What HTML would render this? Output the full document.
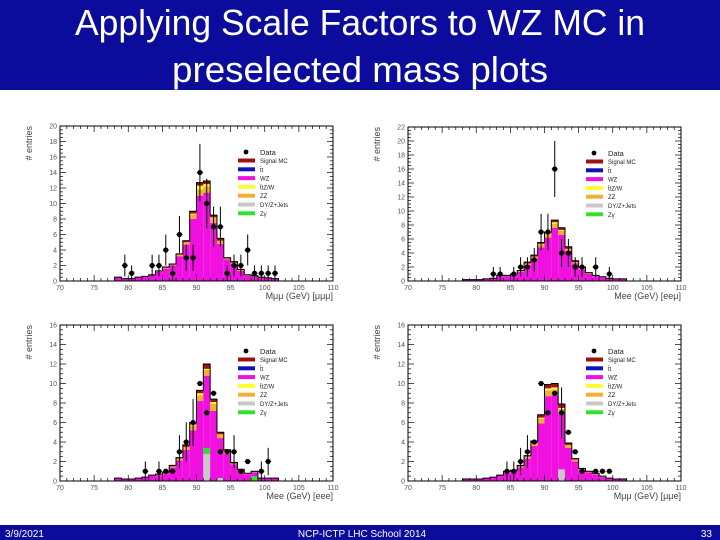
<!DOCTYPE html>
<html><head><meta charset="utf-8"><style>
body{margin:0;background:#fff;}
svg{display:block;font-family:"Liberation Sans",sans-serif;}
</style></head><body>
<svg id="s" width="720" height="540" viewBox="0 0 720 540">
<rect x="0" y="0" width="720" height="90" fill="#0c0c9c"/>
<text x="360" y="35" fill="#fff" font-size="36" text-anchor="middle" textLength="570" lengthAdjust="spacingAndGlyphs">Applying Scale Factors to WZ MC in</text>
<text x="360" y="82" fill="#fff" font-size="36" text-anchor="middle" textLength="376" lengthAdjust="spacingAndGlyphs">preselected mass plots</text>
<rect x="0" y="525" width="720" height="15" fill="#0c0c9c"/>
<text x="5" y="537" fill="#fff" font-size="10">3/9/2021</text>
<text x="362" y="537" fill="#fff" font-size="10" text-anchor="middle">NCP-ICTP LHC School 2014</text>
<text x="712" y="537" fill="#fff" font-size="10" text-anchor="end">33</text>
<g id="plots"></g>
</svg>
<script>
// bins 78..101, width 1 GeV
const binStart = 78;
// ---- panel mumumu
const tlWZ  = [0.5,0.3,0.3,0.5,0.6,0.8,1.2,1.6,2.0,3.2,4.7,8.0,11.0,11.4,7.5,4.8,2.8,2.2,1.3,0.7,0.6,0.4,0.35,0.25];
const tlZZ  = [0,0,0,0,0,0,0.05,0.1,0.1,0.2,0.3,0.6,0.8,0.8,0.6,0.4,0.1,0.15,0.1,0.05,0,0,0,0];
const tlTTZ = [0,0,0,0,0,0,0,0,0,0,0,0.1,0.5,0.3,0.1,0,0,0,0,0,0,0,0,0];
const tlSIG = [0,0,0,0,0,0,0.05,0.1,0.1,0.1,0.2,0.3,0.4,0.4,0.3,0.3,0.1,0.15,0.1,0.05,0.1,0.1,0.05,0.05];
const tlDataX = [79.5,80.5,83.5,84.5,85.5,86.5,87.5,88.5,89.5,90.5,91.5,92.5,93.5,94.5,95.5,96.5,97.5,98.5,99.5,100.5,101.5];
const tlDataY = [2,1,2,2,4,1,6,3,3,14,10,7,7,1,2,2,4,1,1,1,1];
const tlDataE = [1.4,1,1.4,1.4,2,1,2.4,1.7,1.7,3.7,3.2,2.6,2.6,1,1.4,1.4,2,1,1,1,1];
// ---- panel eemu
const trWZ  = [0.2,0.2,0.2,0.3,0.4,0.7,0.7,0.9,1.3,2.3,3.2,4.8,6.2,7.6,6.6,4.3,2.5,1.7,1.0,0.7,0.5,0.35,0.3,0.25];
const trZZ  = [0,0,0,0,0,0.05,0.05,0.05,0.1,0.2,0.3,0.4,0.5,0.6,0.6,0.3,0.2,0.15,0.1,0.05,0.05,0,0,0];
const trTTZ = [0,0,0,0,0,0,0,0,0,0,0,0.1,0.1,0.2,0.1,0,0,0,0,0,0,0,0,0];
const trSIG = [0,0,0,0,0,0.05,0.05,0.05,0.1,0.2,0.2,0.2,0.2,0.3,0.3,0.3,0.2,0.15,0.1,0.05,0.05,0.05,0,0.05];
const trDataX = [82.5,83.5,85.5,86.5,87.5,88.5,89.5,90.5,91.5,92.5,93.5,94.5,95.5,97.5,99.5];
const trDataY = [1,1,1,2,2,3,7,7,16,4,4,2,2,2,1];
const trDataE = [1,1,1,1.4,1.4,1.7,2.6,2.6,4,2,2,1.4,1.4,1.4,1];
// ---- panel eee
const blWZ  = [0.3,0.2,0.2,0.3,0.4,0.6,0.6,0.8,1.4,2.1,3.2,5.2,8.2,10.8,7.2,4.4,2.8,1.7,1.1,0.7,0.9,0.3,0.3,0.3];
const blZZ  = [0,0,0,0,0,0,0.05,0.05,0.1,0.2,0.3,0.5,0.6,0.6,0.7,0.4,0.3,0.1,0.05,0.05,0.05,0,0,0];
const blTTZ = [0,0,0,0,0,0,0,0,0,0,0,0.1,0.2,0.1,0.2,0,0,0,0,0,0,0,0,0];
const blSIG = [0,0,0,0,0,0,0.05,0.05,0.1,0.1,0.2,0.2,0.3,0.5,0.3,0.2,0.1,0.1,0.05,0.05,0.05,0,0,0];
const blDY  = [0,0,0,0,0,0,0,0,0,0,0,0,0,2.8,0,0.3,0,0,0,0,0,0,0,0];
const blZG  = [0,0,0,0,0,0,0,0,0,0,0,0,0,0.6,0,0,0,0,0,0,0.5,0,0,0];
const blDataX = [82.5,84.5,85.5,86.5,87.5,88.5,89.5,90.5,91.5,92.5,93.5,94.5,95.5,96.5,97.5,99.5,100.5];
const blDataY = [1,1,1,1,3,4,6,10,7,9,3,3,3,1,2,1,2];
const blDataE = [1,1,0,0,1.7,2,2.4,0,0,0,0,0,1.7,0,0,1,1.4];
// ---- panel mumue
const brWZ  = [0.2,0.2,0.2,0.3,0.4,0.6,0.9,1.0,1.4,2.3,3.6,5.9,8.7,8.8,6.9,3.4,2.0,1.1,0.9,0.7,0.4,0.25,0.2,0.2];
const brZZ  = [0,0,0,0,0,0,0.05,0.05,0.1,0.2,0.3,0.5,0.6,0.6,0.5,0.3,0.2,0.1,0.05,0.05,0.05,0,0,0];
const brTTZ = [0,0,0,0,0,0,0,0,0,0,0,0.1,0.2,0.2,0.1,0,0,0,0,0,0,0,0,0];
const brSIG = [0,0,0,0,0,0,0.05,0.05,0.1,0.1,0.2,0.3,0.4,0.4,0.4,0.2,0.1,0.1,0.05,0.05,0.05,0.05,0,0];
const brDY  = [0,0,0,0,0,0,0,0,0,0,0,0,0,0,1.2,0,0,0,0,0,0,0,0,0];
const brDataX = [84.5,85.5,86.5,87.5,88.5,89.5,90.5,91.5,92.5,93.5,94.5,95.5,97.5,98.5,99.5];
const brDataY = [1,1,2,3,4,10,7,9,7,5,3,1,1,1,1];
const brDataE = [1,1,1.4,1.7,0,0,0,0,2.6,0,0,0,0,0,0];
const legendLabels = ["Signal MC","t\u0304t","WZ","t\u0304tZ/W","ZZ","DY/Z+Jets","Z\u03b3"];
const legendColors = ["#a01010","#1010c0","#f010e0","#ffff30","#f0b030","#c8c8c8","#30e030"];

const NS="http://www.w3.org/2000/svg";
const root=document.getElementById('plots');
function mk(tag,attrs,parent){const e=document.createElementNS(NS,tag);for(const k in attrs)e.setAttribute(k,attrs[k]);(parent||root).appendChild(e);return e;}

function drawPanel(p){
  const g=mk('g',{});
  
  
  const xS=v=>p.x0+(v-70)/40*(p.x1-p.x0);
  const yS=v=>p.y0-(v/p.ymax)*(p.y0-p.y1);
  const layers=[[p.wz,'#f010e0'],[p.zz,'#f0b030'],[p.ttz,'#ffff30'],[p.sig,'#a01010']];
  const n=p.wz.length;
  const totals=[];
  for(let i=0;i<n;i++){
    let base=0;
    for(const [arr,col] of layers){
      const v=arr[i];if(v<=0)continue;
      const r=mk('rect',{x:xS(binStart+i),y:yS(base+v),width:xS(binStart+i+1)-xS(binStart+i),height:yS(base)-yS(base+v),fill:col},g);
      
      
      base+=v;
    }
    totals.push(base);
    let ob=0;
    for(const [arr,col] of [[p.dy,'#c8c8c8'],[p.zg,'#30e030']]){
      if(!arr)continue;const v=arr[i];if(v<=0)continue;
      const r=mk('rect',{x:xS(binStart+i),y:yS(ob+v),width:xS(binStart+i+1)-xS(binStart+i),height:yS(ob)-yS(ob+v),fill:col},g);
      
      
      ob+=v;
    }
  }
  let d='M'+xS(binStart)+','+yS(0);
  for(let i=0;i<n;i++){d+=' L'+xS(binStart+i)+','+yS(totals[i])+' L'+xS(binStart+i+1)+','+yS(totals[i]);}
  d+=' L'+xS(binStart+n)+','+yS(0);
  const ol=mk('path',{d:d,fill:'none',stroke:'#000','stroke-width':1},g);
  
  
  for(let i=0;i<p.dx.length;i++){
    const cx=xS(p.dx[i]),cy=yS(p.dy_[i]),e=p.de[i];
    if(e>0){const l=mk('line',{x1:cx,x2:cx,y1:yS(p.dy_[i]+e),y2:yS(Math.max(0,p.dy_[i]-e)),stroke:'#000','stroke-width':1},g);
      
      }
    const hl=mk('line',{x1:cx-3,x2:cx+3,y1:cy,y2:cy,stroke:'#000','stroke-width':1},g);
    
    
    const c=mk('circle',{cx:cx,cy:cy,r:2.6,fill:'#000'},g);
    
    
  }
  const fr=mk('rect',{x:p.x0,y:p.y1,width:p.x1-p.x0,height:p.y0-p.y1,fill:'none',stroke:'#000','stroke-width':1},g);
  
  
  for(let v=70;v<=110;v++){
    const major=v%5===0,len=major?6:3,X=xS(v);
    mk('line',{x1:X,x2:X,y1:p.y0,y2:p.y0-len,stroke:'#000','stroke-width':0.7},g);
    mk('line',{x1:X,x2:X,y1:p.y1,y2:p.y1+len,stroke:'#000','stroke-width':0.7},g);
    if(major){const t=mk('text',{x:X,y:p.y0+9,'font-size':7,'text-anchor':'middle',fill:'#555'},g);t.textContent=v;
      
      }
  }
  for(let v=0;v<=p.ymax;v+=0.5){
    const major=v%2===0,len=major?6:3,Y=yS(v);
    mk('line',{x1:p.x0,x2:p.x0+len,y1:Y,y2:Y,stroke:'#000','stroke-width':0.7},g);
    mk('line',{x1:p.x1,x2:p.x1-len,y1:Y,y2:Y,stroke:'#000','stroke-width':0.7},g);
    if(major){const t=mk('text',{x:p.x0-3,y:Y+2.5,'font-size':7,'text-anchor':'end',fill:'#555'},g);t.textContent=v;
      
      }
  }
  const xt=mk('text',{x:p.x1,y:p.y0+18,'font-size':9,'text-anchor':'end',fill:'#444'},g);
  xt.textContent=p.xlabel;
  
  
  const yt=mk('text',{x:0,y:0,'font-size':9,'text-anchor':'end',fill:'#444',transform:'translate('+(p.x0-28)+','+(p.y1)+') rotate(-90)'},g);
  yt.textContent='# entries';
  
  
  const lx=p.x0+178,ly=p.y1+26;
  const lg=mk('g',{},g);
  
  
  mk('circle',{cx:lx+8,cy:ly,r:2.4,fill:'#000'},lg);
  const dt=mk('text',{x:lx+22,y:ly+3,'font-size':7.5,fill:'#222'},lg);dt.textContent='Data';
  
  
  for(let i=0;i<legendLabels.length;i++){
    const yy=ly+9+i*8.8;
    mk('rect',{x:lx,y:yy-2.5,width:17,height:4,fill:legendColors[i]},lg);
    const t=mk('text',{x:lx+22,y:yy+2,'font-size':6,fill:'#222'},lg);t.textContent=legendLabels[i];
    
    
  }
}
drawPanel({name:'plot-mumumu',x0:60,x1:333,y0:281,y1:126,ymax:20,wz:tlWZ,zz:tlZZ,ttz:tlTTZ,sig:tlSIG,dx:tlDataX,dy_:tlDataY,de:tlDataE,xlabel:'M\u03bc\u03bc (GeV) [\u03bc\u03bc\u03bc]'});
drawPanel({name:'plot-eemu',x0:408,x1:681,y0:281,y1:127,ymax:22,wz:trWZ,zz:trZZ,ttz:trTTZ,sig:trSIG,dx:trDataX,dy_:trDataY,de:trDataE,xlabel:'Mee (GeV) [ee\u03bc]'});
drawPanel({name:'plot-eee',x0:60,x1:333,y0:481,y1:325,ymax:16,wz:blWZ,zz:blZZ,ttz:blTTZ,sig:blSIG,dy:blDY,zg:blZG,dx:blDataX,dy_:blDataY,de:blDataE,xlabel:'Mee (GeV) [eee]'});
drawPanel({name:'plot-mumue',x0:408,x1:681,y0:481,y1:325,ymax:16,wz:brWZ,zz:brZZ,ttz:brTTZ,sig:brSIG,dy:brDY,dx:brDataX,dy_:brDataY,de:brDataE,xlabel:'M\u03bc\u03bc (GeV) [\u03bc\u03bce]'});
</script>
</body></html>
